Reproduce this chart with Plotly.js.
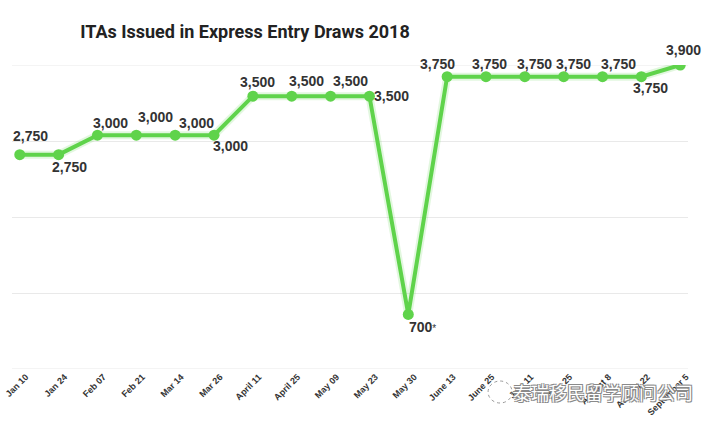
<!DOCTYPE html>
<html>
<head>
<meta charset="utf-8">
<script src="https://cdn.plot.ly/plotly-3.0.1.min.js"></script>
<style>html,body{margin:0;padding:0;background:#fff;}#chart{width:721px;height:424px;}</style>
</head>
<body>
<div id="chart"></div>
<script>
// ---- data ----
var drawDates = ["Jan 10","Jan 24","Feb 07","Feb 21","Mar 14","Mar 26","April 11","April 25","May 09","May 23","May 30","June 13","June 25","July 11","July 25","August 8","August 22","September 5"];
var itasIssued = [2750,2750,3000,3000,3000,3000,3500,3500,3500,3500,700,3750,3750,3750,3750,3750,3750,3900];
var valueLabels = ["2,750","2,750","3,000","3,000","3,000","3,000","3,500","3,500","3,500","3,500","700","3,750","3,750","3,750","3,750","3,750","3,750","3,900"];
var footnoteMark = "*";
var chartTitle = "ITAs Issued in Express Entry Draws 2018";
var watermark = "泰瑞移民留学顾问公司";
var gridValues = [0, 975, 1950, 2925, 3900];

// ---- label placement (style) ----
var labelDx = [11,11,13,19,21,16,5,15,20,22,14,-10,4,10,10,16,9,3];
var labelDy = [-19,12,-12,-18,-12,11,-14,-15,-15,0,13,-13,-13,-13,-13,-13,11,-15];

var green = "#5fd34b";
var annotations = itasIssued.map(function(v, i){
  var txt = valueLabels[i];
  if (v === 700) txt = txt + "<span style='font-size:10px;font-weight:400'>" + footnoteMark + "</span>";
  return {
    x: drawDates[i], y: v, xref: "x", yref: "y",
    text: txt, showarrow: false,
    xshift: labelDx[i], yshift: -labelDy[i],
    xanchor: "center", yanchor: "middle",
    font: {family: "Liberation Sans, Arial, sans-serif", size: 14, color: "#333333", weight: 700}
  };
});
annotations.push({
  xref: "paper", yref: "paper", x: 1.0104, y: -0.0757, xanchor: "right", yanchor: "middle",
  text: watermark, showarrow: false,
  font: {family: "Noto Sans CJK SC", size: 18, color: "#ffffff",
         shadow: "1px 1px 0 #8a8a8a, -1px -1px 0 #8a8a8a, 1px -1px 0 #8a8a8a, -1px 1px 0 #8a8a8a"}
});

var traces = [
  {x: drawDates, y: itasIssued, type: "scatter", mode: "lines",
   line: {color: "rgba(95,211,75,0.18)", width: 8}, hoverinfo: "skip", showlegend: false},
  {x: drawDates, y: itasIssued, type: "scatter", mode: "lines+markers",
   line: {color: green, width: 4}, marker: {color: green, size: 11},
   showlegend: false}
];

var edgeLines = [gridValues[0], gridValues[gridValues.length - 1]].map(function(g){
  return {type: "line", xref: "paper", yref: "y", x0: 0, x1: 1, y0: g, y1: g,
          line: {color: "#e9e9e9", width: 1}, layer: "below"};
});

var layout = {
  width: 721, height: 424,
  margin: {l: 12, r: 33, t: 65, b: 55, pad: 0},
  paper_bgcolor: "#ffffff", plot_bgcolor: "#ffffff",
  title: {text: chartTitle, xref: "container", yref: "container", x: 245/721, xanchor: "center",
          y: 1 - 32/424, yanchor: "middle",
          font: {family: "Roboto, sans-serif", size: 18, color: "#222222", weight: 700}},
  xaxis: {type: "category", range: [-0.2, 17.2], showgrid: false, zeroline: false, showline: false,
          ticks: "", tickangle: -45, ticklabelshift: 6,
          tickfont: {family: "Liberation Sans, Arial, sans-serif", size: 9, color: "#333333", weight: 700}},
  yaxis: {range: [0, 3900], tickvals: gridValues, showticklabels: false,
          showgrid: true, gridcolor: "#e9e9e9", gridwidth: 1, zeroline: false, showline: false, ticks: ""},
  annotations: annotations,
  shapes: edgeLines.concat([
    {type: "circle", xref: "paper", yref: "paper", xsizemode: "pixel", ysizemode: "pixel",
     xanchor: 0.722, yanchor: -0.0757, x0: -12, x1: 12, y0: -11, y1: 11,
     line: {color: "#9a9a9a", width: 1, dash: "dot"}}
  ])
};

Plotly.newPlot("chart", traces, layout, {displayModeBar: false, staticPlot: true});
</script>
</body>
</html>
